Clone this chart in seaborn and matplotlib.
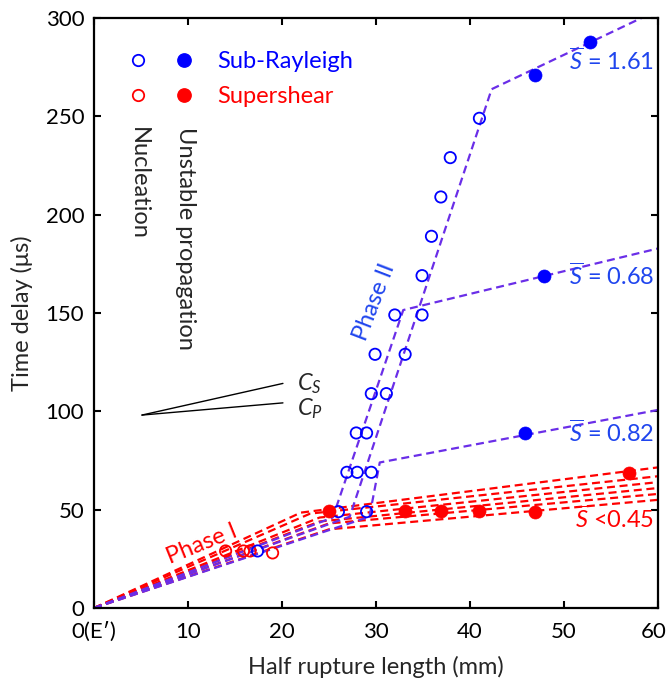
import matplotlib
matplotlib.use("Agg")
import matplotlib.pyplot as plt
from matplotlib.lines import Line2D
from matplotlib.legend_handler import HandlerTuple
from matplotlib.transforms import ScaledTranslation
import pandas as pd
import seaborn as sns

# ---------------- data ----------------
# Nucleation (open symbols)
subray_nuc_x = [17.4, 26.0, 29.0, 26.9, 28.0, 29.5, 27.9, 29.0, 29.5, 31.1,
                29.9, 33.1, 32.0, 34.9, 34.9, 35.9, 36.9, 37.9, 41.0]
subray_nuc_y = [29, 49, 49, 69, 69, 69, 89, 89, 109, 109,
                129, 129, 149, 149, 169, 189, 209, 229, 249]
supsh_nuc_x = [14.0, 15.9, 16.6, 19.0]
supsh_nuc_y = [29, 29, 29, 28]

# Unstable propagation (filled symbols)
subray_prop_x = [45.9, 47.9, 46.9, 52.8]
subray_prop_y = [89, 169, 271, 288]
supsh_prop_x = [25.0, 33.1, 36.9, 41.0, 46.9, 56.9]
supsh_prop_y = [49.5, 49.3, 49.3, 49.3, 49.0, 68.5]

# Piecewise-linear trends for the sub-Rayleigh cases (Phase I -> Phase II -> propagation)
trend_labels = ["1.61", "0.68", "0.82"]
trend_x = {"1.61": [0, 27.2, 42.3, 60], "0.68": [0, 25.4, 32.9, 60], "0.82": [0, 29.3, 30.4, 60]}
trend_y = {"1.61": [0, 46.4, 263.8, 304], "0.68": [0, 46.0, 151.5, 182.8], "0.82": [0, 46.4, 74.0, 100.7]}

# Supershear trends (S < 0.45): kink of Phase I and value at 60 mm
ss_kink_x = [22, 23, 24, 24, 25, 25]
ss_kink_y = [48.5, 48, 46, 44, 43, 40]
ss_end_y = [71.5, 67, 64, 61, 58, 55]
x_end = 60

# Wave-speed reference lines
cs_x, cs_y = [5.1, 20.1], [98.1, 114.2]
cp_x, cp_y = [5.1, 20.1], [98.1, 104.3]

xticks = [0, 10, 20, 30, 40, 50, 60]
xtick_labels = ["0(E\u2032)", "10", "20", "30", "40", "50", "60"]
yticks = [0, 50, 100, 150, 200, 250, 300]

# ---------------- style ----------------
sns.set_theme(style="ticks")
plt.rcParams["font.family"] = ["Lato", "DejaVu Sans"]
plt.rcParams["mathtext.fontset"] = "custom"
plt.rcParams["mathtext.rm"] = "Lato"
plt.rcParams["mathtext.it"] = "Lato:italic"

BLUE = "#0000FF"
BLUE_TXT = "#1F45EE"
PURPLE = "#6A2EE8"
RED = "#FF0000"
FS = 17
DASH = (0, (3.6, 2.1))

fig = plt.figure(figsize=(6.69, 6.85), dpi=100)
ax = fig.add_axes([94 / 669, 77 / 685, 564 / 669, 590 / 685])

# supershear trend lines
ss_rows = []
for i, (kx, ky, ey) in enumerate(zip(ss_kink_x, ss_kink_y, ss_end_y)):
    for xv, yv in zip([0, kx, x_end], [0, ky, ey]):
        ss_rows.append({"line": i, "x": xv, "y": yv})
ss_df = pd.DataFrame(ss_rows)
sns.lineplot(data=ss_df, x="x", y="y", units="line", estimator=None, sort=False,
             color=RED, linewidth=1.6, linestyle=DASH, ax=ax, legend=False)

# sub-Rayleigh trend lines
sr_rows = []
for lab in trend_labels:
    for xv, yv in zip(trend_x[lab], trend_y[lab]):
        sr_rows.append({"line": lab, "x": xv, "y": yv})
sr_df = pd.DataFrame(sr_rows)
sns.lineplot(data=sr_df, x="x", y="y", units="line", estimator=None, sort=False,
             color=PURPLE, linewidth=1.6, linestyle=DASH, ax=ax, legend=False)

# markers
sns.scatterplot(x=supsh_nuc_x, y=supsh_nuc_y, marker="o", s=66, color=RED,
                facecolor="none", edgecolor=RED, linewidth=1.3, ax=ax, zorder=5)
sns.scatterplot(x=subray_nuc_x, y=subray_nuc_y, marker="o", s=66, color=BLUE,
                facecolor="none", edgecolor=BLUE, linewidth=1.3, ax=ax, zorder=5)
sns.scatterplot(x=supsh_prop_x, y=supsh_prop_y, marker="o", s=88, color=RED,
                edgecolor=RED, linewidth=0.5, ax=ax, zorder=5)
sns.scatterplot(x=subray_prop_x, y=subray_prop_y, marker="o", s=88, color=BLUE,
                edgecolor=BLUE, linewidth=0.5, ax=ax, zorder=5)

# wave-speed lines
sns.lineplot(x=cs_x, y=cs_y, color="black", linewidth=1.0, ax=ax, sort=False)
sns.lineplot(x=cp_x, y=cp_y, color="black", linewidth=1.0, ax=ax, sort=False)
ax.text(21.6, cs_y[1], r"$C_S$", fontsize=FS, ha="left", va="center")
ax.text(21.6, cp_y[1] - 3, r"$C_P$", fontsize=FS, ha="left", va="center")

# legend (open = nucleation, filled = unstable propagation)
h_sr = (Line2D([], [], ls="none", marker="o", ms=8.2, mfc="none", mec=BLUE, mew=1.3),
        Line2D([], [], ls="none", marker="o", ms=9.6, mfc=BLUE, mec=BLUE))
h_ss = (Line2D([], [], ls="none", marker="o", ms=8.2, mfc="none", mec=RED, mew=1.3),
        Line2D([], [], ls="none", marker="o", ms=9.6, mfc=RED, mec=RED))
leg = ax.legend([h_sr, h_ss], ["Sub-Rayleigh", "Supershear"],
                handler_map={tuple: HandlerTuple(ndivide=None, pad=0)},
                loc="upper left", bbox_to_anchor=(0.036, 0.944), frameon=False,
                borderpad=0, borderaxespad=0, handlelength=3.95, handletextpad=0.4,
                labelspacing=0.6, fontsize=FS)
leg.get_texts()[0].set_color(BLUE)
leg.get_texts()[1].set_color(RED)

ax.text(4.7, 244.7, "Nucleation", rotation=-90, fontsize=FS, ha="center", va="top")
ax.text(9.7, 244.7, "Unstable propagation", rotation=-90, fontsize=FS, ha="center", va="top")

# phase and S annotations
ax.text(29.8, 155.7, "Phase II", rotation=69, fontsize=FS, color=BLUE_TXT,
        ha="center", va="center", rotation_mode="anchor")
ax.text(11.5, 32.5, "Phase I", rotation=22, fontsize=FS, color=RED,
        ha="center", va="center", rotation_mode="anchor")
ax.text(59.6, 278.5, r"$\overline{S}$ = 1.61", fontsize=FS, color=BLUE_TXT, ha="right", va="center")
ax.text(59.6, 169.0, r"$\overline{S}$ = 0.68", fontsize=FS, color=BLUE_TXT, ha="right", va="center")
ax.text(59.6, 89.2, r"$\overline{S}$ = 0.82", fontsize=FS, color=BLUE_TXT, ha="right", va="center")
ax.text(59.6, 45.6, r"$\overline{S}$ <0.45", fontsize=FS, color=RED, ha="right", va="center")

# axes
ax.set_xlim(0, 60)
ax.set_ylim(0, 300)
ax.set_xticks(xticks)
ax.set_xticklabels(xtick_labels)
ax.set_yticks(yticks)
ax.set_xlabel("Half rupture length (mm)", fontsize=FS, labelpad=10)
ax.set_ylabel("Time delay (\u03bcs)", fontsize=FS, labelpad=9)
ax.tick_params(axis="x", pad=10)
ax.tick_params(axis="y", pad=7)
ax.tick_params(direction="in", top=True, right=True, length=5, width=1.5,
               labelsize=FS - 1, colors="black")
for sp in ax.spines.values():
    sp.set_linewidth(1.6)
    sp.set_color("black")

# keep the last x tick label inside the canvas
last = ax.get_xticklabels()[-1]
last.set_transform(last.get_transform() + ScaledTranslation(-4 / 100, 0, fig.dpi_scale_trans))

fig.savefig("out.png", dpi=100)
